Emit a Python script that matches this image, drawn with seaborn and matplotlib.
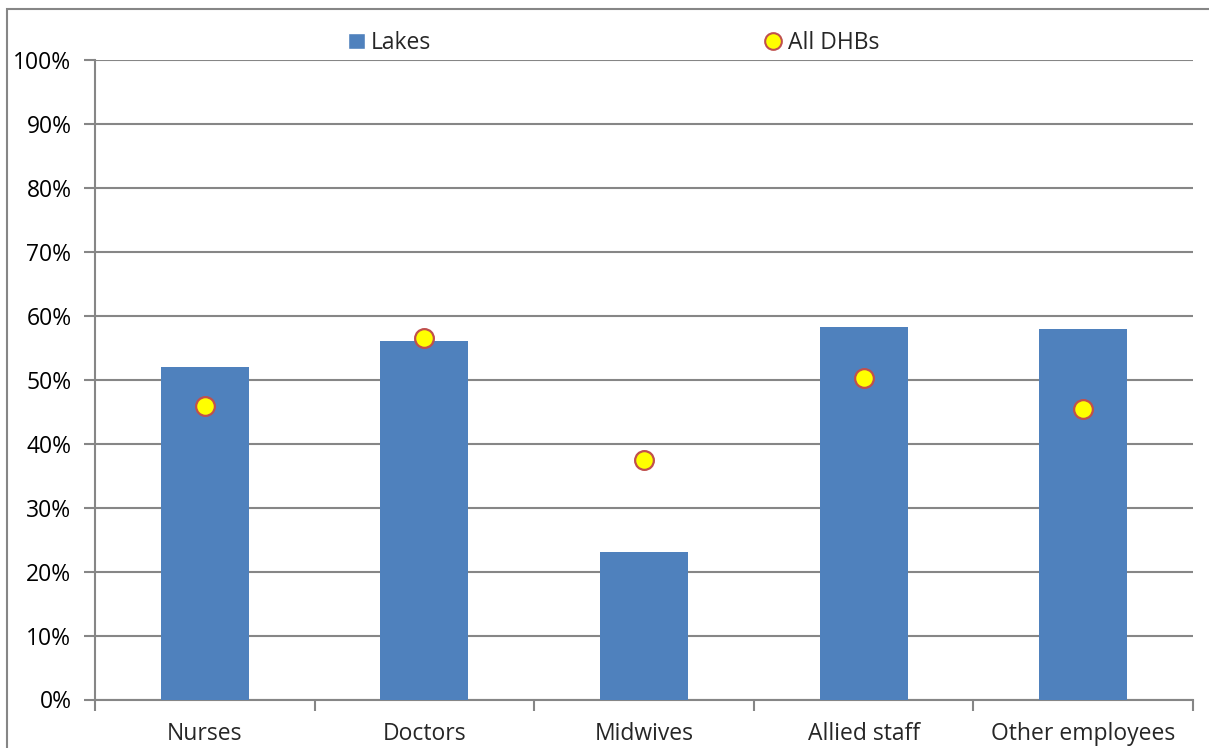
import numpy as np
import pandas as pd
import seaborn as sns
import matplotlib.pyplot as plt
from matplotlib.lines import Line2D
from matplotlib.patches import Patch, Rectangle

## data
categories = ["Nurses", "Doctors", "Midwives", "Allied staff", "Other employees"]
lakes = [52.0, 56.1, 23.1, 58.2, 58.0]
all_dhbs = [45.9, 56.6, 37.4, 50.2, 45.5]

df = pd.DataFrame({"Group": categories, "Lakes": lakes, "All DHBs": all_dhbs})

sns.set_style("white")
plt.rcParams['font.family'] = ['Open Sans', 'DejaVu Sans']
fs = 16.5

fig = plt.figure(figsize=(12.09, 7.48), dpi=100)
ax = fig.add_axes([95/1209, 1 - 699.5/748, (1193-95)/1209, (699.5-60)/748])

sns.barplot(data=df, x="Group", y="Lakes", color="#4f81bd", saturation=1,
            width=0.4, linewidth=0, ax=ax, zorder=3)
sns.stripplot(data=df, x="Group", y="All DHBs", jitter=False, color="#ffff00",
              edgecolor="#c0504d", linewidth=1.6, size=13.5, ax=ax, zorder=4)

ax.set_ylim(0, 100)
ax.set_xlim(-0.5, 4.5)
ax.set_yticks(np.arange(0, 101, 10))
ax.set_yticklabels([f"{v}%" for v in range(0, 101, 10)])
ax.set_xticks(range(len(categories)))
ax.set_xticklabels(categories)
ax.set_xticks(np.arange(-0.5, 5, 1), minor=True)
ax.set_xlabel("")
ax.set_ylabel("")

grey = "#868686"
ax.yaxis.grid(True, color=grey, linewidth=1.5, zorder=0)
ax.set_axisbelow(True)
for s in ["top", "right"]:
    ax.spines[s].set_visible(False)
for s in ["left", "bottom"]:
    ax.spines[s].set_color(grey)
    ax.spines[s].set_linewidth(1.5)
ax.tick_params(axis="y", which="major", left=True, length=8, width=1.5, color=grey,
               labelsize=fs, pad=9, labelcolor="black")
ax.tick_params(axis="x", which="major", bottom=False, labelsize=fs, pad=13)
ax.tick_params(axis="x", which="minor", bottom=True, length=8, width=1.5, color=grey)

## legend, two separate entries like the original
fig.legend(handles=[Patch(facecolor="#4f81bd", label="Lakes")],
           loc="center left", bbox_to_anchor=(327/1209, 1 - 43/748), frameon=False,
           fontsize=fs, handlelength=0.75, handleheight=0.75, handletextpad=0.25)
fig.legend(handles=[Line2D([], [], marker="o", linestyle="", markersize=12,
                           markerfacecolor="#ffff00", markeredgecolor="#c0504d",
                           markeredgewidth=1.5, label="All DHBs")],
           loc="center left", bbox_to_anchor=(744/1209, 1 - 43/748), frameon=False,
           fontsize=fs, handlelength=0.75, handletextpad=0.25)

## outer chart border
fig.patches.append(Rectangle((7/1209, -0.1), 1.2, 1 - 9/748 + 0.1, transform=fig.transFigure,
                             fill=False, edgecolor=grey, linewidth=1.5))

plt.savefig("out.png", dpi=100)
